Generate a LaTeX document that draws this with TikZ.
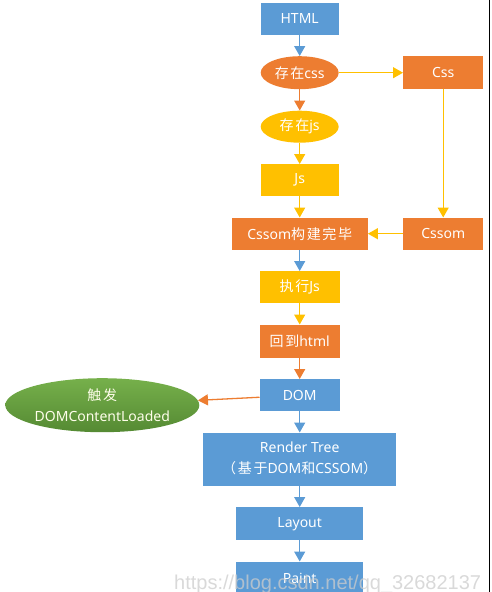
\documentclass[tikz,border=0pt]{standalone}
\usepackage{fontspec}
\setmainfont{Noto Sans}
\newfontfamily\cjk[LetterSpace=12]{Noto Sans CJK SC}
\newfontfamily\wmfont{Liberation Sans}
\usepackage{xcolor}
\usepackage{tikz}
\usetikzlibrary{matrix,positioning,shapes.geometric,arrows.meta}

\definecolor{boxblue}{HTML}{5B9BD5}
\definecolor{boxorange}{HTML}{ED7D31}
\definecolor{boxyellow}{HTML}{FFC000}
\definecolor{leaflight}{HTML}{76B04B}
\definecolor{leafdark}{HTML}{558A33}

\begin{document}
\begin{tikzpicture}[x=1pt,y=-1pt,>={Triangle[width=11pt,length=10pt]},
  box/.style={rectangle,minimum height=32pt,inner sep=1pt,text=white,
    font=\fontsize{14}{21}\selectfont},
  blue box/.style={box,fill=boxblue},
  orange box/.style={box,fill=boxorange},
  yellow box/.style={box,fill=boxyellow},
  oval/.style={box,ellipse,minimum width=78pt,minimum height=33pt,inner sep=0pt},
  link/.style={->,line width=1.3pt}]
\useasboundingbox (0,0) rectangle (491,592);
            \matrix (flow) [%
            matrix of nodes,inner sep=0pt,anchor=north west,
        nodes={anchor=center},
        column sep=7pt,
        row sep=21.5pt,] at (203,2.5) {
|[blue box,minimum width=78pt]| HTML & \\
|[oval,fill=boxorange]| {\cjk 存在}css & |[orange box,minimum width=80pt,minimum height=33pt]| Css \\
|[oval,fill=boxyellow,minimum height=32pt]| {\cjk 存在}js & \\
|[yellow box,minimum width=78pt]| Js & \\
|[orange box,minimum width=136pt]| Cssom{\cjk 构建完毕} & |[orange box,minimum width=80pt]| Cssom \\
|[yellow box,minimum width=80pt]| {\cjk 执行}Js & \\
|[orange box,minimum width=80pt,minimum height=33pt]| {\cjk 回到}html & \\
|[blue box,minimum width=80pt]| DOM & \\
|[blue box,minimum width=193pt,minimum height=53pt]| \begin{tabular}{@{}c@{}}Render Tree\tabularnewline{\cjk （基于}DOM{\cjk 和}CSSOM{\cjk ）}\end{tabular} & \\
|[blue box,minimum width=127pt,minimum height=33pt]| Layout & \\
|[blue box,minimum width=127pt,minimum height=33pt]| Paint & \\
};
\node (fire) [box,ellipse,minimum width=194pt,minimum height=54pt,inner sep=0pt,
  align=center,top color=leaflight,bottom color=leafdark,text=white!92!yellow,
  left=60pt of flow-8-1,yshift=-10pt] {{\cjk 触发}\\DOMContentLoaded};
\draw[link,boxblue] (flow-1-1) -- (flow-2-1);
\draw[link,boxorange] (flow-2-1) -- (flow-3-1);
\draw[link,boxyellow] (flow-3-1) -- (flow-4-1);
\draw[link,boxyellow] (flow-4-1) -- (flow-5-1);
\draw[link,boxblue] (flow-5-1) -- (flow-6-1);
\draw[link,boxyellow] (flow-6-1) -- (flow-7-1);
\draw[link,boxorange] (flow-7-1) -- (flow-8-1);
\draw[link,boxblue] (flow-8-1) -- (flow-9-1);
\draw[link,boxblue] (flow-9-1) -- (flow-10-1);
\draw[link,boxblue] (flow-10-1) -- (flow-11-1);
\draw[link,boxyellow] (flow-2-1) -- (flow-2-2);
\draw[link,boxyellow] (flow-2-2) -- (flow-5-2);
\draw[link,boxyellow] (flow-5-2) -- (flow-5-1);
\draw[link,boxorange] (flow-8-1) -- (fire);
\node (wmark) [anchor=base west,inner sep=0pt,text=gray!40,opacity=0.75,
  font=\wmfont\fontsize{20}{20}\selectfont] at (174,589) {https://blog.csdn.net/qq\_32682137};
\draw[line width=1pt] (489.5,0) -- (489.5,592);
\end{tikzpicture}
\end{document}
